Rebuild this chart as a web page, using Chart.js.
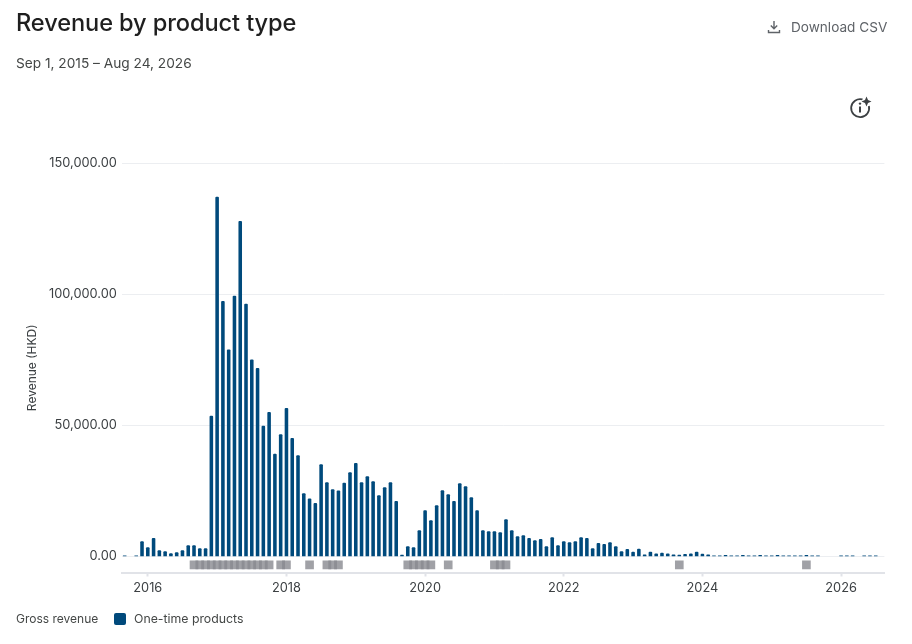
<!DOCTYPE html>
<html>
<head>
<meta charset="utf-8">
<title>Revenue by product type</title>
<script src="https://cdn.jsdelivr.net/npm/chart.js@4"></script>
<style>
  html, body { margin: 0; padding: 0; background: #fff; }
  body { width: 912px; height: 644px; position: relative; overflow: hidden; font-family: Inter, "Noto Sans", sans-serif; }
  canvas { position: absolute; left: 0; top: 0; }
  .txt { position: absolute; white-space: nowrap; }
  #title { left: 16px; top: 8px; font-size: 23.6px; line-height: 30px; font-weight: 500; color: #1f1f1f; letter-spacing: -0.1px; }
  #range { left: 16px; top: 54px; font-size: 13.7px; line-height: 18px; color: #444746; }
  #csv { left: 791px; top: 18px; font-size: 13.6px; line-height: 18px; color: #5f6368; }
  #legendName { left: 16px; top: 611px; font-size: 12px; line-height: 16px; color: #444746; }
  #legendItem { left: 134px; top: 611px; font-size: 12.3px; line-height: 16px; color: #444746; }
  #swatch { position: absolute; left: 114px; top: 613px; width: 12px; height: 12px; border-radius: 2px; background: #004a7c; }
  svg { position: absolute; }
</style>
</head>
<body>
<canvas id="revenueChart" width="912" height="644"></canvas>
<div class="txt" id="title">Revenue by product type</div>
<div class="txt" id="range">Sep 1, 2015 – Aug 24, 2026</div>
<svg style="left:767px;top:20px" width="14" height="14" viewBox="0 0 14 14" fill="none" stroke="#5f6368" stroke-width="1.4">
  <path d="M7 1v7.5M3.8 5.6 7 8.8l3.2-3.2M1.5 10v2.5h11V10"/>
</svg>
<div class="txt" id="csv">Download CSV</div>
<svg style="left:849px;top:96px" width="23" height="23" viewBox="0 0 23 23" fill="none">
  <path d="M13.5 3.4A9 9 0 1 0 19.9 10" stroke="#3c4043" stroke-width="1.8"/>
  <circle cx="11" cy="7.6" r="1.2" fill="#3c4043"/>
  <path d="M11 10.5v6" stroke="#3c4043" stroke-width="2"/>
  <path d="M17.5 0.5 19 4l3.5 1.5L19 7l-1.5 3.5L16 7l-3.5-1.5L16 4z" fill="#3c4043"/>
</svg>
<div class="txt" id="legendName">Gross revenue</div>
<div id="swatch"></div>
<div class="txt" id="legendItem">One-time products</div>

<script>
// Months on the x axis, one per bar
const categories = [
  "2015-09", "2015-10", "2015-11", "2015-12",
  "2016-01", "2016-02", "2016-03", "2016-04", "2016-05", "2016-06", "2016-07", "2016-08", "2016-09", "2016-10", "2016-11", "2016-12",
  "2017-01", "2017-02", "2017-03", "2017-04", "2017-05", "2017-06", "2017-07", "2017-08", "2017-09", "2017-10", "2017-11", "2017-12",
  "2018-01", "2018-02", "2018-03", "2018-04", "2018-05", "2018-06", "2018-07", "2018-08", "2018-09", "2018-10", "2018-11", "2018-12",
  "2019-01", "2019-02", "2019-03", "2019-04", "2019-05", "2019-06", "2019-07", "2019-08", "2019-09", "2019-10", "2019-11", "2019-12",
  "2020-01", "2020-02", "2020-03", "2020-04", "2020-05", "2020-06", "2020-07", "2020-08", "2020-09", "2020-10", "2020-11", "2020-12",
  "2021-01", "2021-02", "2021-03", "2021-04", "2021-05", "2021-06", "2021-07", "2021-08", "2021-09", "2021-10", "2021-11", "2021-12",
  "2022-01", "2022-02", "2022-03", "2022-04", "2022-05", "2022-06", "2022-07", "2022-08", "2022-09", "2022-10", "2022-11", "2022-12",
  "2023-01", "2023-02", "2023-03", "2023-04", "2023-05", "2023-06", "2023-07", "2023-08", "2023-09", "2023-10", "2023-11", "2023-12",
  "2024-01", "2024-02", "2024-03", "2024-04", "2024-05", "2024-06", "2024-07", "2024-08", "2024-09", "2024-10", "2024-11", "2024-12",
  "2025-01", "2025-02", "2025-03", "2025-04", "2025-05", "2025-06", "2025-07", "2025-08", "2025-09", "2025-10", "2025-11", "2025-12",
  "2026-01", "2026-02", "2026-03", "2026-04", "2026-05", "2026-06", "2026-07", "2026-08",
];

// Gross revenue per month (HKD)
const revenue = [
  300, null, 300, 5700,
  3400, 6900, 2300, 1900, 1100, 1500, 2300, 4200, 4200, 3000, 3000, 53500,
  137000, 97300, 78800, 99300, 127800, 96200, 75000, 71700, 49700, 55000, 39000, 46500,
  56500, 45000, 38500, 24000, 22000, 20300, 35000, 28200, 25500, 25000, 28000, 32000,
  35500, 28200, 30500, 28600, 23200, 26300, 28200, 21000, 500, 3800, 3400, 9900,
  17500, 13700, 19400, 25100, 23600, 21000, 27800, 26700, 22500, 17500, 9900, 9500,
  9500, 9100, 14100, 9900, 7600, 8000, 6900, 6100, 6500, 3800, 7200, 4200,
  5700, 5300, 5700, 7200, 6900, 3000, 5000, 4600, 5300, 3800, 1900, 2700,
  1650, 2800, 600, 1650, 1000, 1300, 1000, 600, 500, 800, 1000, 1650,
  900, 600, 300, 300, 400, 300, 300, 400, 300, 300, 400, 300,
  300, 400, 300, 300, 300, 300, 400, 300, 300, null, null, null,
  300, 300, 300, null, 300, 300, 300, null,
];

// Months that carry a grey marker under the bars
const eventMonths = [
  "2016-09", "2016-10", "2016-11", "2016-12", "2017-01", "2017-02", "2017-03", "2017-04", "2017-05", "2017-06", "2017-07", "2017-08", "2017-09", "2017-10",
  "2017-12", "2018-01", "2018-05", "2018-08", "2018-09", "2018-10",
  "2019-10", "2019-11", "2019-12", "2020-01", "2020-02", "2020-05",
  "2021-01", "2021-02", "2021-03", "2023-09", "2025-07",
];

const yTicks = [0, 50000, 100000, 150000];
const xTickYears = ["2016", "2018", "2020", "2022", "2024", "2026"];

const tickFont = { family: "Inter, 'Noto Sans', sans-serif", size: 12.8 };

const revenueCtx = document.getElementById("revenueChart").getContext("2d");
const revenueChart = new Chart(revenueCtx, {
  type: "bar",
  data: {
    labels: categories,
    datasets: [
      {
        label: "One-time products",
        data: revenue,
        backgroundColor: "#004a7c",
        barThickness: 2.9,
        borderRadius: 1,
        grouped: false,
      },
      {
        label: "Events",
        data: categories.map((m) => (eventMonths.includes(m) ? [-4700, -1660] : null)),
        backgroundColor: "rgba(136, 138, 144, 0.8)",
        barThickness: 8,
        grouped: false,
      },
    ],
  },
  options: {
    responsive: false,
    animation: false,
    layout: { padding: { left: 0, right: 27.6, top: 163, bottom: 31.5 } },
    plugins: { legend: { display: false }, title: { display: false } },
    scales: {
      x: {
        offset: true,
        grid: { offset: false, drawOnChartArea: false, drawTicks: true, tickLength: 4, tickColor: "#e1e3e8", tickWidth: 2 },
        border: { display: true, color: "#e1e3e8", width: 2 },
        afterBuildTicks: (scale) => {
          scale.ticks = scale.ticks.filter((t) => xTickYears.includes(categories[t.value].slice(0, 4)) && categories[t.value].endsWith("-01"));
        },
        afterFit: (scale) => { scale.height = 40; },
        ticks: {
          autoSkip: false,
          maxRotation: 0,
          padding: 4,
          color: "#3c4043",
          font: tickFont,
          callback: (value) => categories[value].slice(0, 4),
        },
      },
      y: {
        min: -6100,
        max: 150000,
        grid: { color: "#eceef1", drawTicks: false, lineWidth: 1 },
        border: { display: false },
        afterBuildTicks: (scale) => { scale.ticks = yTicks.map((v) => ({ value: v })); },
        afterFit: (scale) => { scale.width = 121.8; },
        title: { display: true, text: "Revenue (HKD)", color: "#3c4043", font: { family: tickFont.family, size: 12 }, padding: { top: 25, bottom: 0 } },
        ticks: {
          padding: 5,
          color: "#3c4043",
          font: tickFont,
          callback: (value) => value.toLocaleString("en-US", { minimumFractionDigits: 2, maximumFractionDigits: 2 }),
        },
      },
    },
  },
});
</script>
</body>
</html>
